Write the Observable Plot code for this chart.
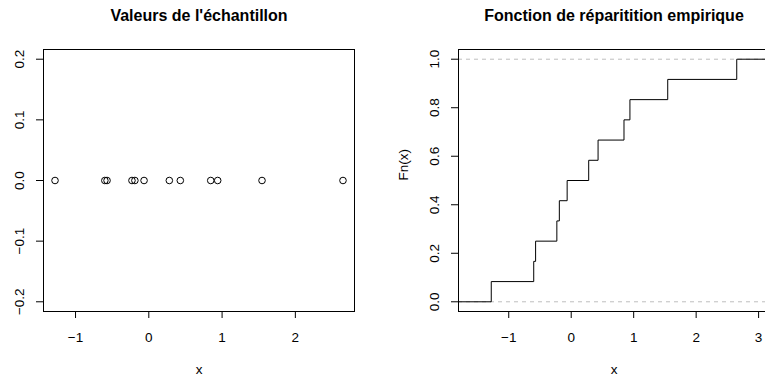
<!DOCTYPE html>
<html><head><meta charset="utf-8">
<script src="https://cdn.jsdelivr.net/npm/d3@7"></script>
<script src="https://cdn.jsdelivr.net/npm/@observablehq/plot@0.6"></script>
<style>
body{margin:0;background:#fff;}
#wrap{position:relative;width:765px;height:379px;overflow:hidden;background:#fff;}
#left{position:absolute;left:0;top:0;width:382px;}
#right{position:absolute;left:382px;top:0;width:400px;}
#wrap svg{max-width:none !important;}
</style></head><body>
<div id="wrap"><div id="left"></div><div id="right"></div></div>
<script>
// Data
const sample = [-1.28, -0.60, -0.57, -0.23, -0.19, -0.065, 0.28, 0.43, 0.845, 0.94, 1.545, 2.65];
const leftTitle = "Valeurs de l'échantillon";
const rightTitle = "Fonction de réparitition empirique";
const xLabel = "x";
const fnLabel = "Fn(x)";
const leftXTicks = [-1, 0, 1, 2];
const leftYTicks = [-0.2, -0.1, 0, 0.1, 0.2];
const rightXTicks = [-1, 0, 1, 2, 3];
const rightYTicks = [0, 0.2, 0.4, 0.6, 0.8, 1.0];
const refLevels = [0, 1];

const FONT = "'Liberation Sans', Arial, Helvetica, sans-serif";
const minus = s => s.replace("-", "\u2212");
const fmtX = d => minus(String(d));
const fmtY = d => minus(d.toFixed(1));

// R-style axis extents (4% expansion)
const ext = ([a, b]) => { const w = b - a; return [a - 0.04 * w, b + 0.04 * w]; };
const rx = d3.extent(sample);
const leftXDom = ext(rx);
const leftYDom = ext([-0.2, 0.2]);

const sorted = [...sample].sort(d3.ascending);
const n = sorted.length;
const diffs = d3.pairs(sorted, (a, b) => b - a);
const dr = Math.max(0.08 * (rx[1] - rx[0]), d3.median(diffs));
const rightXDom = ext([rx[0] - dr, rx[1] + dr]);
const rightYDom = ext([0, 1]);

const common = {
  height: 379, marginTop: 49, marginBottom: 68,
  style: {fontFamily: FONT, fontSize: "13.5px", background: "white", color: "black", maxWidth: "none"}
};

const left = Plot.plot({
  ...common,
  width: 382, marginLeft: 43, marginRight: 28,
  x: {domain: leftXDom},
  y: {domain: leftYDom},
  marks: [
    Plot.frame({stroke: "black"}),
    Plot.axisX({ticks: leftXTicks, tickFormat: fmtX, tickSize: 7, tickPadding: 14, fontSize: 13.5, label: null}),
    Plot.axisY({ticks: leftYTicks, tickFormat: fmtY, tickSize: 7, tickRotate: -90, tickPadding: 13, fontSize: 13.5, label: null}),
    Plot.dot(sample, {x: d => d, y: () => 0, r: 3.3, stroke: "black", strokeWidth: 1, fill: "none"}),
    Plot.text([leftTitle], {text: d => d, frameAnchor: "top", dy: -34, fontWeight: "bold", fontSize: 16, lineAnchor: "middle"}),
    Plot.text([xLabel], {text: d => d, frameAnchor: "bottom", dy: 58, fontSize: 13.5, lineAnchor: "middle"})
  ]
});

const stepData = [{x: rightXDom[0] - 1, y: 0}, ...sorted.map((v, i) => ({x: v, y: (i + 1) / n})), {x: rightXDom[1] + 1, y: 1}];

const right = Plot.plot({
  ...common,
  width: 400, marginLeft: 76, marginRight: 13,
  x: {domain: rightXDom},
  y: {domain: rightYDom},
  marks: [
    Plot.ruleY(refLevels, {stroke: "#bebebe", strokeDasharray: "4,4"}),
    Plot.line(stepData, {x: "x", y: "y", curve: "step-after", stroke: "black", strokeWidth: 1, clip: true}),
    Plot.frame({stroke: "black"}),
    Plot.axisX({ticks: rightXTicks, tickFormat: fmtX, tickSize: 7, tickPadding: 14, fontSize: 13.5, label: null}),
    Plot.axisY({ticks: rightYTicks, tickFormat: fmtY, tickSize: 7, tickRotate: -90, tickPadding: 13, fontSize: 13.5, label: null}),
    Plot.text([rightTitle], {text: d => d, frameAnchor: "top", dy: -34, fontWeight: "bold", fontSize: 16, lineAnchor: "middle"}),
    Plot.text([xLabel], {text: d => d, frameAnchor: "bottom", dy: 58, fontSize: 13.5, lineAnchor: "middle"}),
    Plot.text([fnLabel], {text: d => d, frameAnchor: "left", dx: -54.5, rotate: -90, fontSize: 13.5, lineAnchor: "middle"})
  ]
});

document.getElementById("left").appendChild(left);
document.getElementById("right").appendChild(right);
</script>
</body></html>
